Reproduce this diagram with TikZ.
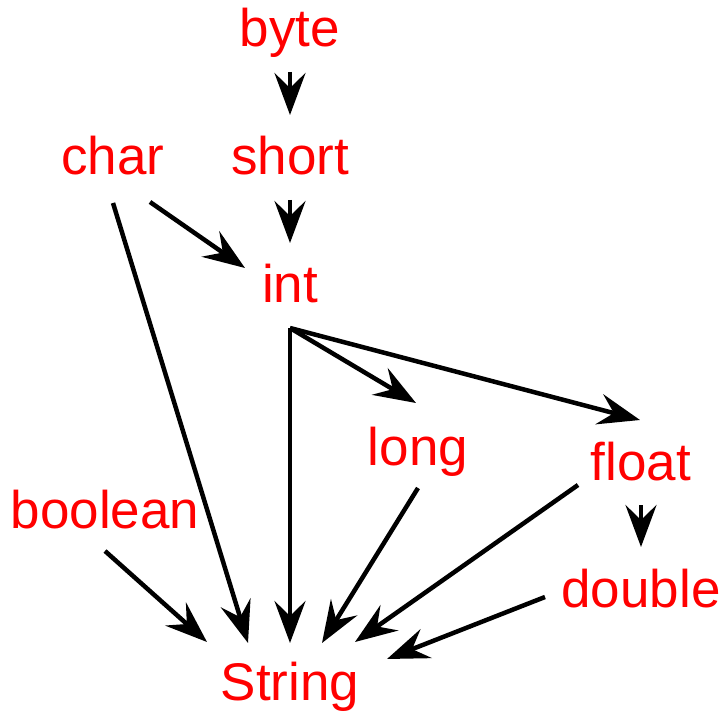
\documentclass[tikz,border=0pt]{standalone}
\usepackage{fontspec}
\setmainfont{Liberation Sans}
\usetikzlibrary{arrows.meta}
\begin{document}
\begin{tikzpicture}[x=1pt,y=-1pt,
  lbl/.style={text=red,anchor=base,inner sep=0pt,font=\fontsize{53}{60}\selectfont},
  conn/.style={line width=4.5pt,-{Stealth[length=42pt,width=31pt,inset=15pt]}}]
\useasboundingbox (0,0) rectangle (724,714);
\node[lbl] (byte) at (290,47) {byte};
\node[lbl] (short) at (290,175) {short};
\node[lbl] (char) at (113,175) {char};
\node[lbl] (int) at (290,303) {int};
\node[lbl] (long) at (418,466) {long};
\node[lbl] (float) at (641,480) {float};
\node[lbl] (boolean) at (105,528) {boolean};
\node[lbl] (double) at (641,607) {double};
\node[lbl] (String) at (290,700) {String};
\draw[conn] ([shift={(0,25)}]byte.base) -- ([shift={(0,-60)}]short.base);
\draw[conn] ([shift={(0,25)}]short.base) -- ([shift={(0,-60)}]int.base);
\draw[conn] ([shift={(37,27)}]char.base) -- ([shift={(-45,-35)}]int.base);
\draw[conn] ([shift={(0,28)}]char.base) -- ([shift={(-42,-57)}]String.base);
\draw[conn] ([shift={(0,25)}]int.base) -- ([shift={(0,-57)}]String.base);
\draw[conn] ([shift={(0,25)}]int.base) -- ([shift={(-2,-63)}]long.base);
\draw[conn] ([shift={(0,25)}]int.base) -- ([shift={(-1,-60)}]float.base);
\draw[conn] ([shift={(0,22)}]long.base) -- ([shift={(32,-57)}]String.base);
\draw[conn] ([shift={(-63,5)}]float.base) -- ([shift={(65,-58)}]String.base);
\draw[conn] ([shift={(-96,-10)}]double.base) -- ([shift={(97,-41)}]String.base);
\draw[conn] ([shift={(0,23)}]boolean.base) -- ([shift={(-83,-58)}]String.base);
\draw[conn] ([shift={(0,25)}]float.base) -- ([shift={(0,-60)}]double.base);
\end{tikzpicture}
\end{document}
